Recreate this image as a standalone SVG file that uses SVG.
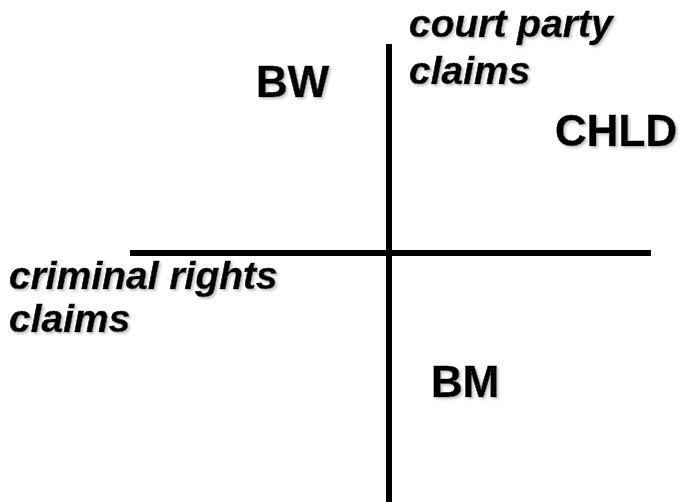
<svg xmlns="http://www.w3.org/2000/svg" width="681" height="502" viewBox="0 0 681 502">
<style>
text{font-family:"Liberation Sans",Arial,sans-serif;font-weight:bold;fill:#000;stroke:#000;stroke-width:0.6;filter:url(#shadow);}
.big{font-size:44px;}
.it{font-size:39px;font-style:italic;}
.ax{stroke:#000;stroke-width:6;fill:none;}
</style>
<defs>
<filter id="shadow" x="-5%" y="-10%" width="115%" height="130%">
<feOffset in="SourceAlpha" dx="2" dy="2" result="o"/>
<feGaussianBlur in="o" stdDeviation="0.8" result="b"/>
<feColorMatrix in="b" type="matrix" values="0 0 0 0 0.6  0 0 0 0 0.6  0 0 0 0 0.6  0 0 0 1 0" result="g"/>
<feMerge><feMergeNode in="g"/><feMergeNode in="SourceGraphic"/></feMerge>
</filter>
</defs>
<g id="connectors">
<line class="ax" x1="389" y1="44" x2="389" y2="502"/>
<line class="ax" x1="130" y1="253" x2="651" y2="253"/>
</g>
<g id="BW"><text class="big" x="256" y="97">BW</text></g>
<g id="CHLD"><text class="big" x="555" y="146">CHLD</text></g>
<g id="BM"><text class="big" x="431" y="397">BM</text></g>
<g id="court"><text class="it"><tspan x="409" y="37">court party</tspan><tspan x="409" y="84">claims</tspan></text></g>
<g id="criminal"><text class="it"><tspan x="9" y="289">criminal rights</tspan><tspan x="9" y="332">claims</tspan></text></g>
</svg>
